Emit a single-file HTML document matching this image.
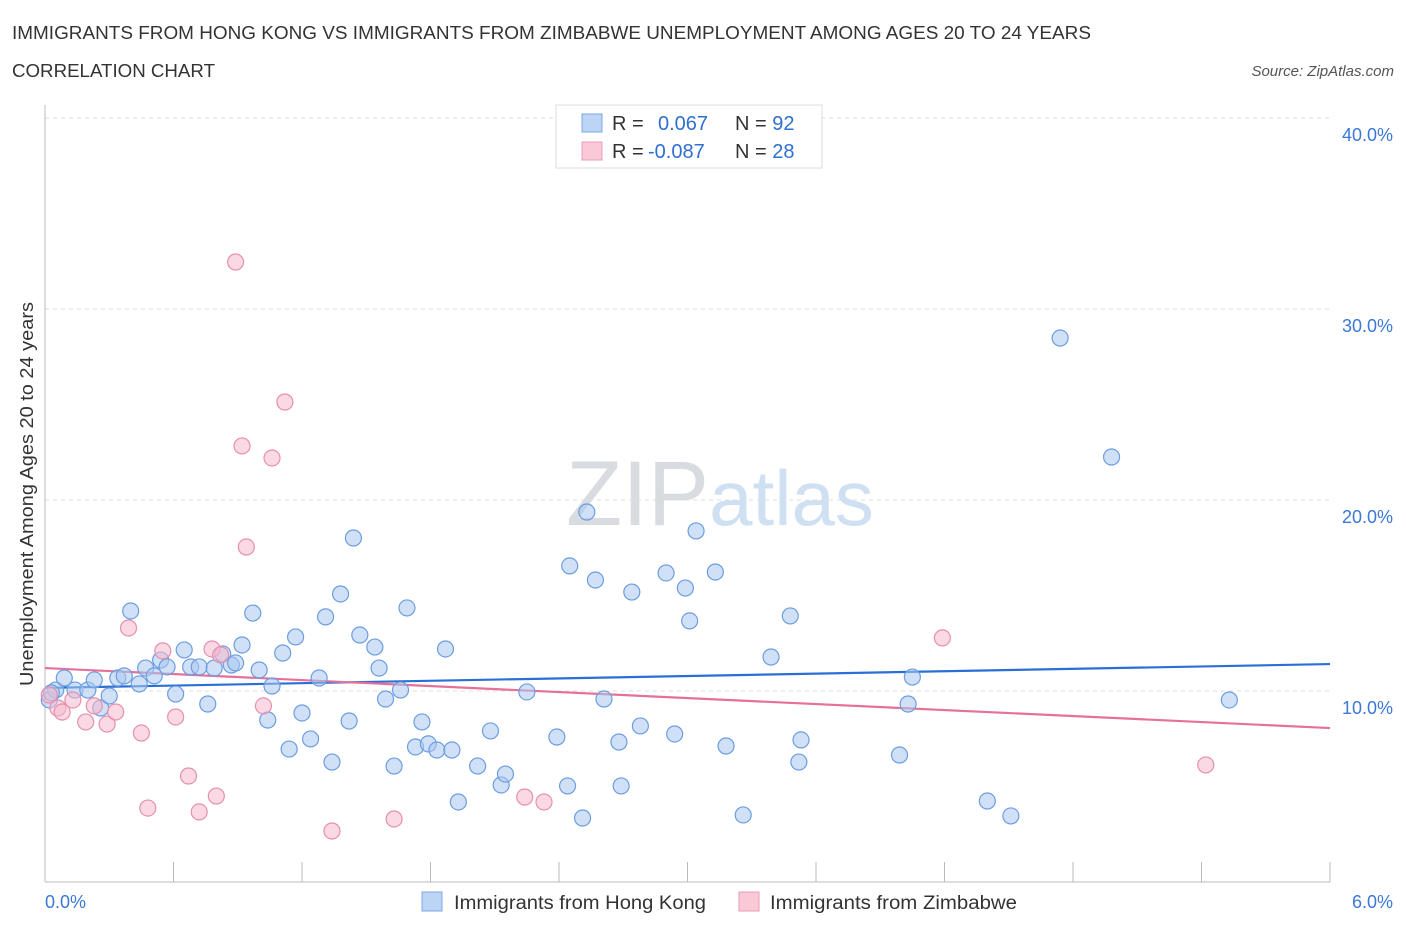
<!DOCTYPE html>
<html><head><meta charset="utf-8"><style>
body{margin:0;background:#fff;font-family:"Liberation Sans",sans-serif;}
svg text{font-family:"Liberation Sans",sans-serif;}
</style></head><body>
<svg id="chart" width="1406" height="930" xmlns="http://www.w3.org/2000/svg">
<text x="12" y="39" font-size="18" fill="#333" textLength="1079" lengthAdjust="spacingAndGlyphs">IMMIGRANTS FROM HONG KONG VS IMMIGRANTS FROM ZIMBABWE UNEMPLOYMENT AMONG AGES 20 TO 24 YEARS</text>
<text x="12" y="77" font-size="18" fill="#333" textLength="203" lengthAdjust="spacingAndGlyphs">CORRELATION CHART</text>
<text x="1394" y="76" font-size="15" fill="#555" font-style="italic" text-anchor="end">Source: ZipAtlas.com</text>
<text x="720" y="525" font-size="92" text-anchor="middle" fill="#e2e6ec" font-family="Liberation Serif"><tspan fill="#d8dbe0">ZIP</tspan><tspan fill="#cfe0f3" font-family="Liberation Sans" font-size="78">atlas</tspan></text>
<g id="grid"></g>
<g id="axes"></g>
<g id="lines"></g>
<g id="pts"></g>
<text transform="translate(33,494) rotate(-90)" font-size="18" fill="#333" text-anchor="middle" textLength="384" lengthAdjust="spacingAndGlyphs">Unemployment Among Ages 20 to 24 years</text>
<g>
<rect x="556" y="105" width="266" height="63" fill="#fff" stroke="#ddd"/>
<rect x="582" y="114" width="20" height="18" fill="#bcd5f5" stroke="#7aa7e3"/>
<rect x="582" y="142" width="20" height="18" fill="#f9c9d8" stroke="#eb9ab6"/>
<text x="612" y="130" font-size="20" fill="#333">R = <tspan fill="#2f6fd0" x="658">0.067</tspan><tspan x="735" fill="#333">N = </tspan><tspan fill="#2f6fd0">92</tspan></text>
<text x="612" y="158" font-size="20" fill="#333">R = <tspan fill="#2f6fd0" x="648">-0.087</tspan><tspan x="735" fill="#333">N = </tspan><tspan fill="#2f6fd0">28</tspan></text>
</g>
<g>
<rect x="422" y="892" width="20" height="19" fill="#bcd5f5" stroke="#7aa7e3"/>
<text x="454" y="909" font-size="19" fill="#333" textLength="252" lengthAdjust="spacingAndGlyphs">Immigrants from Hong Kong</text>
<rect x="739" y="892" width="20" height="19" fill="#f9c9d8" stroke="#eb9ab6"/>
<text x="770" y="909" font-size="19" fill="#333" textLength="247" lengthAdjust="spacingAndGlyphs">Immigrants from Zimbabwe</text>
</g>
</svg>
<script>
const hkX=[0.02,0.05,0.09,0.14,0.20,0.23,0.26,0.30,0.34,0.37,0.40,0.44,0.47,0.51,0.54,0.57,0.61,0.65,0.68,0.72,0.76,0.79,0.83,0.87,0.89,0.92,0.97,1.00,1.04,1.06,1.11,1.14,1.17,1.20,1.24,1.28,1.31,1.34,1.38,1.42,1.44,1.47,1.54,1.56,1.59,1.63,1.66,1.69,1.73,1.76,1.79,1.83,1.87,1.90,1.93,2.02,2.08,2.13,2.15,2.25,2.39,2.44,2.45,2.51,2.53,2.57,2.61,2.68,2.69,2.74,2.78,2.90,2.94,2.99,3.01,3.04,3.13,3.18,3.26,3.39,3.48,3.52,3.53,3.99,4.03,4.05,4.40,4.51,4.74,4.98,5.53,0.03];
const hkY=[9.53,10.05,10.68,10.05,10.05,10.58,9.11,9.74,10.68,10.79,14.19,10.37,11.20,10.79,11.62,11.26,9.84,12.15,11.26,11.26,9.32,11.20,11.94,11.36,11.47,12.41,14.08,11.10,8.48,10.26,11.99,6.96,12.83,8.85,7.49,10.68,13.88,6.28,15.08,8.43,18.01,12.93,12.30,11.20,9.58,6.07,10.05,14.35,7.07,8.38,7.23,6.91,12.20,6.91,4.19,6.07,7.91,5.08,5.65,9.95,7.59,5.03,16.55,3.35,19.37,15.81,9.58,7.33,5.03,15.18,8.17,16.18,7.75,15.39,13.67,18.38,16.23,7.12,3.51,11.78,13.93,6.28,7.44,6.65,9.32,10.73,4.24,3.46,28.48,22.25,9.53,9.9];
const zwX=[0.02,0.06,0.08,0.13,0.19,0.23,0.29,0.33,0.39,0.45,0.48,0.55,0.61,0.67,0.72,0.78,0.80,0.82,0.89,0.92,0.94,1.02,1.06,1.12,1.34,1.63,2.24,2.33,4.19,5.42];
const zwY=[9.79,9.11,8.90,9.53,8.38,9.22,8.27,8.90,13.30,7.80,3.87,12.10,8.64,5.55,3.67,12.20,4.50,11.89,32.46,22.83,17.54,9.22,22.20,25.13,2.67,3.30,4.45,4.19,12.78,6.13];
const hkTrend=[10.16,11.41];
const zwTrend=[11.2,8.06];
const xTicks=[0,0.6,1.2,1.8,2.4,3.0,3.6,4.2,4.8,5.4,6.0];
const yTicks=[10,20,30,40];
const yLabels=["10.0%","20.0%","30.0%","40.0%"];
const NS="http://www.w3.org/2000/svg";
const sx=v=>45+v/6*1285, sy=v=>882-v*19.1;
function mk(tag,attrs,parent){const e=document.createElementNS(NS,tag);for(const k in attrs)e.setAttribute(k,attrs[k]);document.getElementById(parent).appendChild(e);return e;}
yTicks.forEach((t,i)=>{
 const l=mk('line',{x1:45,x2:1330,y1:sy(t),y2:sy(t),stroke:'#ddd','stroke-dasharray':'4 4'},'grid');
 
 
 const tx=mk('text',{x:1393,y:sy(t)+23,'font-size':18,fill:'#3b78d8','text-anchor':'end'},'grid');
 tx.textContent=yLabels[i];
 
 
});
const ax=mk('line',{x1:45,x2:45,y1:105,y2:882,stroke:'#bbb'},'axes');


const bx=mk('line',{x1:45,x2:1330,y1:882,y2:882,stroke:'#bbb'},'axes');


xTicks.forEach(t=>{
 const l=mk('line',{x1:sx(t),x2:sx(t),y1:862,y2:882,stroke:'#bbb'},'axes');
 
 
});
const x0=mk('text',{x:45,y:908,'font-size':18,fill:'#3b78d8'},'axes');x0.textContent='0.0%';


const x1=mk('text',{x:1393,y:908,'font-size':18,fill:'#3b78d8','text-anchor':'end'},'axes');x1.textContent='6.0%';


function pts(X,Y,fill,stroke,name){X.forEach((x,i)=>{
 const c=mk('circle',{cx:sx(x),cy:sy(Y[i]),r:8,fill:fill,'fill-opacity':0.55,stroke:stroke,'stroke-width':1.2},'pts');
 
 
});}
pts(hkX,hkY,'#a9c8f0','#6b9de0','point-hong-kong');
pts(zwX,zwY,'#f6b9cd','#e68fae','point-zimbabwe');
const t1=mk('line',{x1:sx(0),x2:sx(6),y1:sy(hkTrend[0]),y2:sy(hkTrend[1]),stroke:'#2a6fd6','stroke-width':2.2},'lines');


const t2=mk('line',{x1:sx(0),x2:sx(6),y1:sy(zwTrend[0]),y2:sy(zwTrend[1]),stroke:'#e5719a','stroke-width':2.2},'lines');


</script>
</body></html>
